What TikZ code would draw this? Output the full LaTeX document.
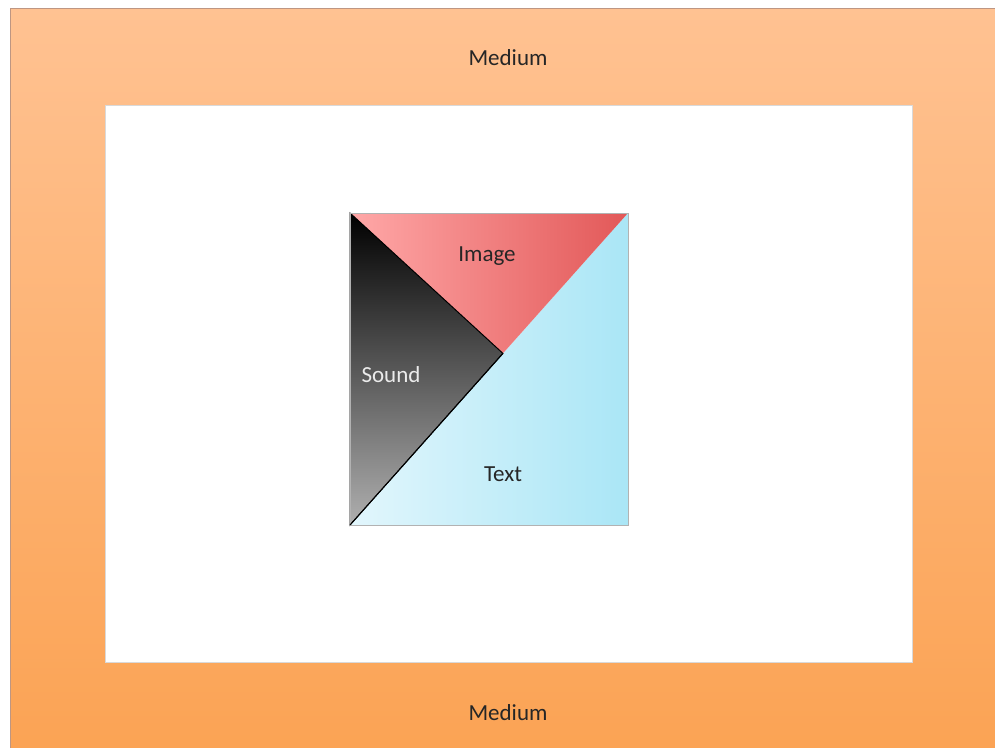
\documentclass[tikz,border=0pt]{standalone}
\usepackage{fontspec}
\setmainfont{Carlito}
\usetikzlibrary{calc}

\definecolor{frametop}{RGB}{255,194,146}
\definecolor{framebot}{RGB}{251,163,84}
\definecolor{framerim}{RGB}{190,150,130}
\definecolor{pinklt}{RGB}{255,168,168}
\definecolor{reddk}{RGB}{226,88,88}
\definecolor{cyanlt}{RGB}{226,246,252}
\definecolor{cyandk}{RGB}{170,230,246}
\definecolor{greylt}{RGB}{175,175,175}

\begin{document}
\begin{tikzpicture}[x=1pt,y=-1pt,
  rim/.style={draw=black!30,line width=0.6pt},
  label/.style={font=\fontsize{23}{25}\selectfont,text=black!85},
  lightlabel/.style={font=\fontsize{23}{25}\selectfont,text=white!92!black},
]
\useasboundingbox (0,0) rectangle (995,747);

% Medium frame
\shade[top color=frametop,bottom color=framebot,draw=framerim,line width=1pt]
  (10,8) rectangle (1000,752);
\draw[fill=white,draw=black!15,line width=0.6pt] (105,105) rectangle (912,662);
\node[label] (mediumtop) at (508,58) {Medium};
\node[label] (mediumbot) at (508,713) {Medium};

% corners of the square and the point on its diagonal
\coordinate (tl) at (350,213);
\coordinate (tr) at (628,213);
\coordinate (bl) at (350,525);
\coordinate (br) at (628,525);
\coordinate (mid) at ($(bl)!0.55!(tr)$);

% Text triangle
\shade[left color=cyanlt,right color=cyandk] (bl) -- (tr) -- (br) -- cycle;
% Image triangle
\shade[shading angle=120,left color=pinklt,right color=reddk] (tl) -- (tr) -- (mid) -- cycle;
% Sound triangle
\shade[shading angle=-40,top color=black,middle color=black!75,bottom color=greylt]
  (tl) -- (mid) -- (bl) -- cycle;
\draw[black,line width=1pt] (tl) -- (mid) -- (bl) -- cycle;
\draw[rim] (tl) rectangle (br);
\draw[black,line width=1pt] (bl) -- (mid);

\node[label] (image) at (487,256) {Image};
\node[lightlabel] (sound) at (391,375) {Sound};
\node[label] (text) at (503,474) {Text};

\end{tikzpicture}
\end{document}
